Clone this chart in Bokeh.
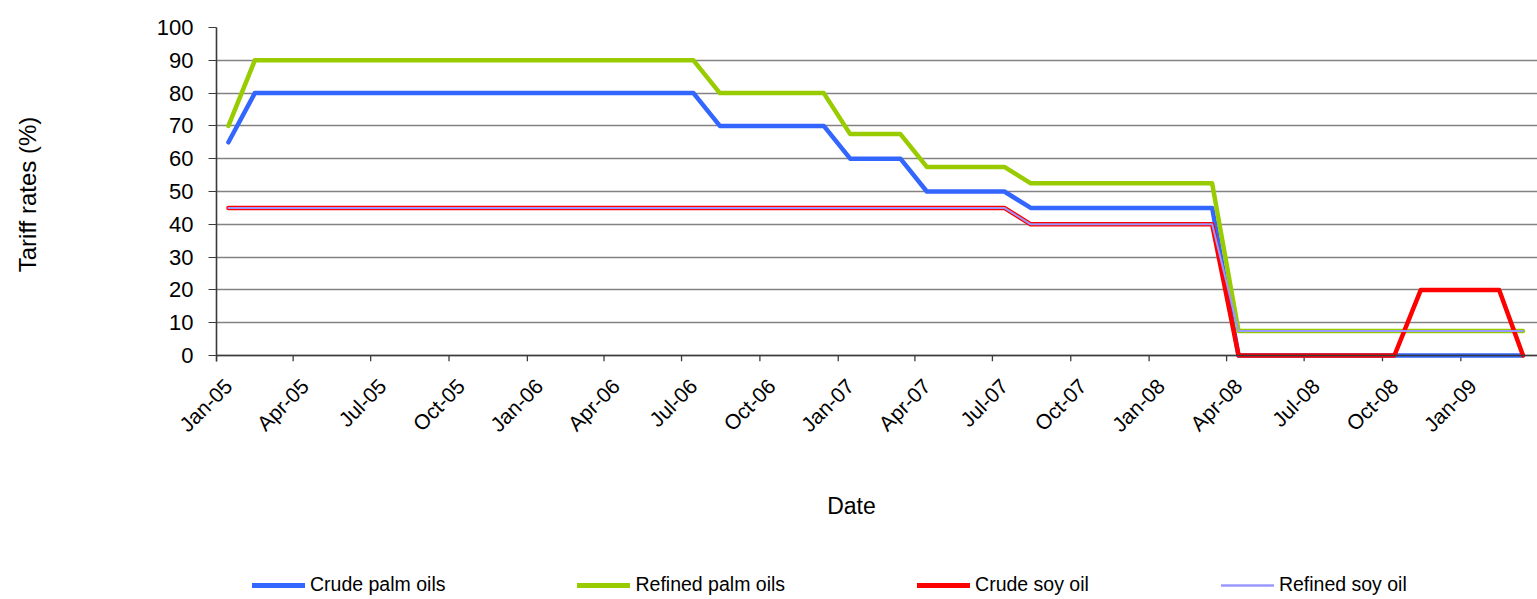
import math
import pandas as pd
from bokeh.plotting import figure
from bokeh.layouts import column
from bokeh.models import (FixedTicker, DatetimeTickFormatter, Range1d, Span,
                          Legend, LegendItem, Label)
from bokeh.embed import file_html
from bokeh.resources import INLINE

# Monthly observations, Jan 2005 - Mar 2009 (plotted mid-month)
month_starts = pd.date_range("2005-01-01", "2009-03-01", freq="MS")
dates = month_starts + pd.Timedelta(days=14)

crude_palm = [65, 80, 80, 80, 80, 80, 80, 80, 80, 80, 80, 80, 80, 80, 80, 80, 80, 80, 80,
              70, 70, 70, 70, 70, 60, 60, 60, 50, 50, 50, 50,
              45, 45, 45, 45, 45, 45, 45, 45,
              0, 0, 0, 0, 0, 0, 0, 0, 0, 0, 0, 0]
refined_palm = [70, 90, 90, 90, 90, 90, 90, 90, 90, 90, 90, 90, 90, 90, 90, 90, 90, 90, 90,
                80, 80, 80, 80, 80, 67.5, 67.5, 67.5, 57.5, 57.5, 57.5, 57.5,
                52.5, 52.5, 52.5, 52.5, 52.5, 52.5, 52.5, 52.5,
                7.5, 7.5, 7.5, 7.5, 7.5, 7.5, 7.5, 7.5, 7.5, 7.5, 7.5, 7.5]
crude_soy = [45, 45, 45, 45, 45, 45, 45, 45, 45, 45, 45, 45, 45, 45, 45, 45, 45, 45, 45,
             45, 45, 45, 45, 45, 45, 45, 45, 45, 45, 45, 45,
             40, 40, 40, 40, 40, 40, 40, 40,
             0, 0, 0, 0, 0, 0, 0, 20, 20, 20, 20, 0]
refined_soy = [45, 45, 45, 45, 45, 45, 45, 45, 45, 45, 45, 45, 45, 45, 45, 45, 45, 45, 45,
               45, 45, 45, 45, 45, 45, 45, 45, 45, 45, 45, 45,
               40, 40, 40, 40, 40, 40, 40, 40,
               7.5, 7.5, 7.5, 7.5, 7.5, 7.5, 7.5, 7.5, 7.5, 7.5, 7.5, 7.5]

series_names = ["Crude palm oils", "Refined palm oils", "Crude soy oil", "Refined soy oil"]
series_colors = ["#3366FF", "#99CC00", "#FF0000", "#9999FF"]
series_widths = [4.5, 4.5, 4.5, 2]
y_ticks = [0, 10, 20, 30, 40, 50, 60, 70, 80, 90, 100]
x_tick_dates = pd.date_range("2005-01-01", "2009-01-01", freq="QS")


def ms(ts):
    return pd.Timestamp(ts).timestamp() * 1000.0


FONT = "Liberation Sans"
AXIS_COLOR = "#3a3a3a"
W = 1537
TOP_H = 460
FRAME_TOP = 27
ZERO_PX = 355          # pixel row of the value axis' zero
TICK_LEN = 6           # category tick marks hang below the zero line
FRAME_BOTTOM = ZERO_PX + TICK_LEN
px_per_unit = (ZERO_PX - FRAME_TOP) / 100.0
y_floor = -TICK_LEN / px_per_unit

p = figure(width=W, height=TOP_H, x_axis_type="datetime",
           x_range=Range1d(ms("2005-01-01"), ms("2009-04-01")),
           y_range=Range1d(y_floor, 100),
           output_backend="svg", toolbar_location=None,
           min_border_left=216, min_border_right=0,
           min_border_top=FRAME_TOP, min_border_bottom=TOP_H - FRAME_BOTTOM)
p.outline_line_color = None

# horizontal grid
p.xgrid.grid_line_color = None
p.ygrid.grid_line_color = "#828282"
p.ygrid.grid_line_width = 1.3
p.ygrid.ticker = FixedTicker(ticks=y_ticks)

# y axis
p.yaxis.ticker = FixedTicker(ticks=y_ticks)
p.yaxis.minor_tick_line_color = None
p.yaxis.major_tick_in = 0
p.yaxis.major_tick_out = 8
p.yaxis.axis_line_color = AXIS_COLOR
p.yaxis.axis_line_width = 1.6
p.yaxis.major_tick_line_color = AXIS_COLOR
p.yaxis.major_label_text_font = FONT
p.yaxis.major_label_text_font_size = "22px"
p.yaxis.major_label_text_color = "black"
p.yaxis.major_label_standoff = 15
p.yaxis.axis_label = "Tariff rates (%)"
p.yaxis.axis_label_text_font = FONT
p.yaxis.axis_label_text_font_size = "24px"
p.yaxis.axis_label_text_font_style = "normal"
p.yaxis.axis_label_text_color = "black"
p.yaxis.axis_label_standoff = 113

# date axis line at zero with quarterly tick marks hanging below it
p.add_layout(Span(location=0, dimension="width", line_color=AXIS_COLOR, line_width=1.6))
q_ticks = [ms(t) for t in x_tick_dates]
p.segment(x0=q_ticks, y0=[0] * len(q_ticks), x1=q_ticks, y1=[y_floor] * len(q_ticks),
          line_color=AXIS_COLOR, line_width=1.3)

# slanted month labels, set a little past each quarter tick
fmt = "%b-%y"
p.xaxis.ticker = FixedTicker(ticks=[ms(t + pd.Timedelta(days=14)) for t in x_tick_dates])
p.xaxis.formatter = DatetimeTickFormatter(months=fmt, days=fmt, years=fmt,
                                          hours=fmt, minutes=fmt, seconds=fmt)
p.xaxis.axis_line_color = None
p.xaxis.major_tick_line_color = None
p.xaxis.minor_tick_line_color = None
p.xaxis.major_label_orientation = math.pi / 4
p.xaxis.major_label_text_font = FONT
p.xaxis.major_label_text_font_size = "21px"
p.xaxis.major_label_text_color = "black"
p.xaxis.major_label_standoff = 15

# series
for vals, color, w in zip([crude_palm, refined_palm, crude_soy, refined_soy],
                          series_colors, series_widths):
    p.line(dates, vals, line_color=color, line_width=w,
           line_join="round", line_cap="round")

# lower panel: axis title and legend (frame aligns with the chart above, so
# its x range is expressed in page pixels from 216 to the right edge)
BOT_H = 599 - TOP_H
q = figure(width=W, height=BOT_H, x_range=Range1d(216, W), y_range=Range1d(0, BOT_H),
           x_axis_location=None, y_axis_location=None,
           output_backend="svg", toolbar_location=None,
           min_border_left=0, min_border_right=0, min_border_top=0, min_border_bottom=0)
q.outline_line_color = None
q.grid.visible = False

q.add_layout(Label(x=851, y=599 - 505, text="Date",
                   text_font=FONT, text_font_size="23px", text_color="black",
                   text_align="center", text_baseline="middle"))

nan = float("nan")
keys = [q.line([nan, nan], [nan, nan], line_color=c, line_width=w + 0.5, line_cap="round")
        for c, w in zip(series_colors, series_widths)]
legend = Legend(items=[LegendItem(label=n, renderers=[r]) for n, r in zip(series_names, keys)],
                orientation="horizontal", location=(252 - 216, 3),
                spacing=132, glyph_width=53, glyph_height=20, label_height=20,
                label_standoff=5, padding=0, margin=0, border_line_color=None,
                background_fill_alpha=0,
                label_text_font=FONT, label_text_font_size="19.5px",
                label_text_color="black")
q.add_layout(legend)

layout = column(p, q, spacing=0)
open("out.html", "w").write(file_html(layout, INLINE))
